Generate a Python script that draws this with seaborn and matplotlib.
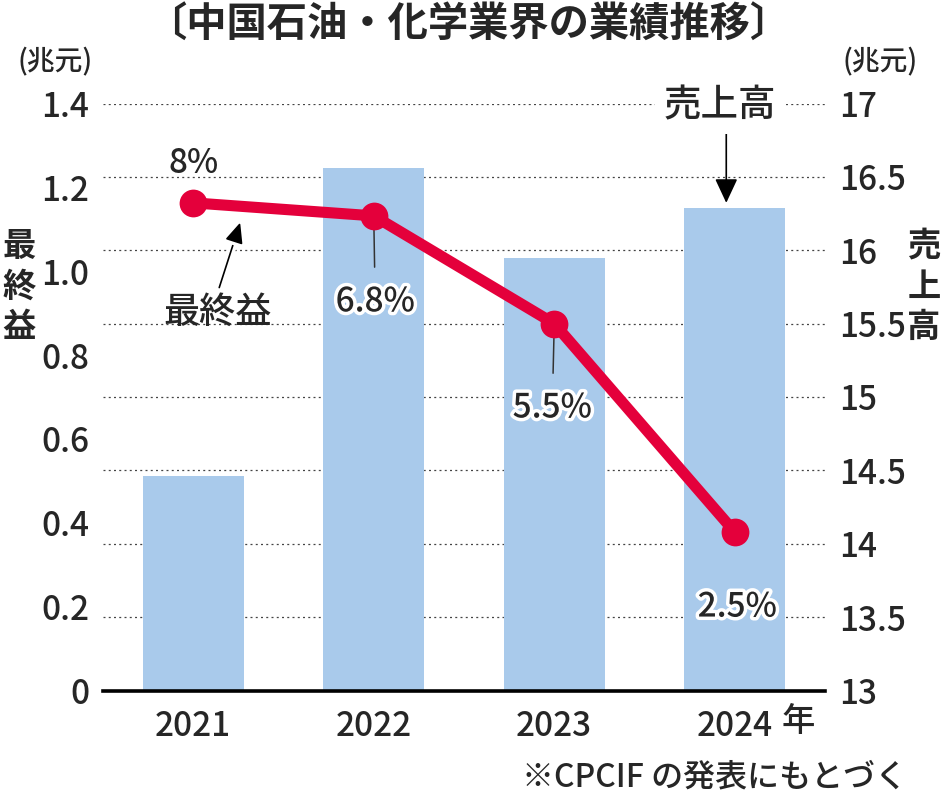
import numpy as np
import matplotlib
matplotlib.use("Agg")
import matplotlib.pyplot as plt
import matplotlib.patheffects as pe
import seaborn as sns

# ---- data ----
years = ["2021", "2022", "2023", "2024"]
sales = [14.46, 16.56, 15.95, 16.29]          # 売上高 (兆元), right axis
profit = [1.163, 1.132, 0.875, 0.378]         # 最終益 (兆元), left axis
margins = ["8%", "6.8%", "5.5%", "2.5%"]
left_ticks = [0, 0.2, 0.4, 0.6, 0.8, 1.0, 1.2, 1.4]
left_labels = ["0", "0.2", "0.4", "0.6", "0.8", "1.0", "1.2", "1.4"]
right_ticks = [13, 13.5, 14, 14.5, 15, 15.5, 16, 16.5, 17]
right_labels = ["13", "13.5", "14", "14.5", "15", "15.5", "16", "16.5", "17"]

BAR = "#A9CAEB"
RED = "#E4003B"
WEIGHT = "medium"

sns.set_theme(style="white")
plt.rcParams["font.family"] = ["Noto Sans CJK JP", "DejaVu Sans"]
plt.rcParams["font.weight"] = WEIGHT

W, H = 943, 793
fig = plt.figure(figsize=(W / 100, H / 100), dpi=100)
left, right, bottom, top = 103, 825, 690.5, 103.5
ax = fig.add_axes([left / W, 1 - bottom / H, (right - left) / W, (bottom - top) / H])

# bars (sales) on primary axis
sns.barplot(x=years, y=sales, ax=ax, color=BAR, saturation=1, width=0.56,
            linewidth=0, zorder=2)
ax.set_ylim(13, 17)
ax.set_axisbelow(True)
ax.grid(axis="y", color="#444444", linestyle=(0, (1.6, 2.6)), linewidth=0.9)
ax.grid(axis="x", visible=False)
ax.set_xlabel("")
ax.set_ylabel("")
for s in ["top", "left", "right"]:
    ax.spines[s].set_visible(False)
ax.spines["bottom"].set_color("black")
ax.spines["bottom"].set_linewidth(2.6)

# line (profit) on twin axis
ax2 = ax.twinx()
xpos = np.arange(len(years))
sns.lineplot(x=xpos, y=profit, ax=ax2, color=RED, linewidth=8, marker="o",
             markersize=20, markeredgewidth=0, zorder=4)
ax2.set_ylim(0, 1.4)
ax2.set_xlabel("")
ax2.set_ylabel("")
for s in ax2.spines.values():
    s.set_visible(False)

# put scales on the proper sides (after twinx)
ax.yaxis.tick_right()
ax.set_yticks(right_ticks)
ax.set_yticklabels(right_labels, fontsize=24, fontweight=WEIGHT)
ax.tick_params(axis="both", length=0)
ax.tick_params(axis="y", pad=10)
ax.tick_params(axis="x", pad=13)

ax2.yaxis.tick_left()
ax2.set_yticks(left_ticks)
ax2.set_yticklabels(left_labels, fontsize=24, fontweight=WEIGHT)
ax2.tick_params(axis="y", length=0, pad=10)

ax.set_xlim(-0.5, 3.5)
ax.set_xticks(xpos)
ax.set_xticklabels(years, fontsize=24, fontweight=WEIGHT)

stroke = [pe.withStroke(linewidth=5, foreground="white")]

# margin labels
ax2.text(0.0, 1.256, margins[0], ha="center", va="center", fontsize=24, zorder=6)
ax2.annotate(margins[1], xy=(1, profit[1]), xytext=(1.008, 0.927),
             ha="center", va="center", fontsize=24, path_effects=stroke,
             arrowprops=dict(arrowstyle="-", color="#333333", lw=1.1,
                             shrinkA=10, shrinkB=0), zorder=1)
ax2.annotate(margins[2], xy=(2, profit[2]), xytext=(1.989, 0.674),
             ha="center", va="center", fontsize=24, path_effects=stroke,
             arrowprops=dict(arrowstyle="-", color="#333333", lw=1.1,
                             shrinkA=10, shrinkB=0), zorder=1)
ax2.text(3.014, 0.199, margins[3], ha="center", va="center", fontsize=24,
         path_effects=stroke, zorder=6)

# 最終益 annotation
ax2.annotate("", xy=(0.26, 1.116), xytext=(0.144, 0.961),
             arrowprops=dict(arrowstyle="-|>,head_length=0.5,head_width=0.22",
                             color="black", lw=1.2, mutation_scale=25,
                             shrinkA=0, shrinkB=0,
                             path_effects=[pe.withStroke(linewidth=6, foreground="white")]),
             zorder=5)
ax2.text(0.133, 0.901, "最終益", ha="center", va="center", fontsize=26, zorder=6)

# 売上高 annotation
ax2.annotate("", xy=(2.953, 1.163), xytext=(2.953, 1.331),
             arrowprops=dict(arrowstyle="-|>,head_length=0.6,head_width=0.28",
                             color="black", lw=1.2, mutation_scale=25,
                             shrinkA=0, shrinkB=0), zorder=5)
ax2.text(2.92, 1.395, "売上高", ha="center", va="center", fontsize=27, zorder=6,
         bbox=dict(boxstyle="square,pad=0.25", fc="white", ec="none"))

# axis unit labels and side titles
fig.text(55 / W, 1 - 62 / H, "(兆元)", ha="center", va="center", fontsize=20)
fig.text(880 / W, 1 - 62 / H, "(兆元)", ha="center", va="center", fontsize=20)
fig.text(19 / W, 1 - 287 / H, "最\n終\n益", ha="center", va="center",
         fontsize=24, fontweight="bold", linespacing=1.3)
fig.text(924 / W, 1 - 287 / H, "売\n上\n高", ha="center", va="center",
         fontsize=24, fontweight="bold", linespacing=1.3)

# year suffix
fig.text(798 / W, 1 - 722 / H, "年", ha="center", va="center", fontsize=24)

# title and source
fig.text(468 / W, 1 - 24 / H, "〔中国石油・化学業界の業績推移〕", ha="center",
         va="center", fontsize=29, fontweight="bold")
fig.text(907 / W, 1 - 777 / H, "※CPCIF の発表にもとづく", ha="right",
         va="center", fontsize=23)

fig.savefig("out.png", dpi=100)
